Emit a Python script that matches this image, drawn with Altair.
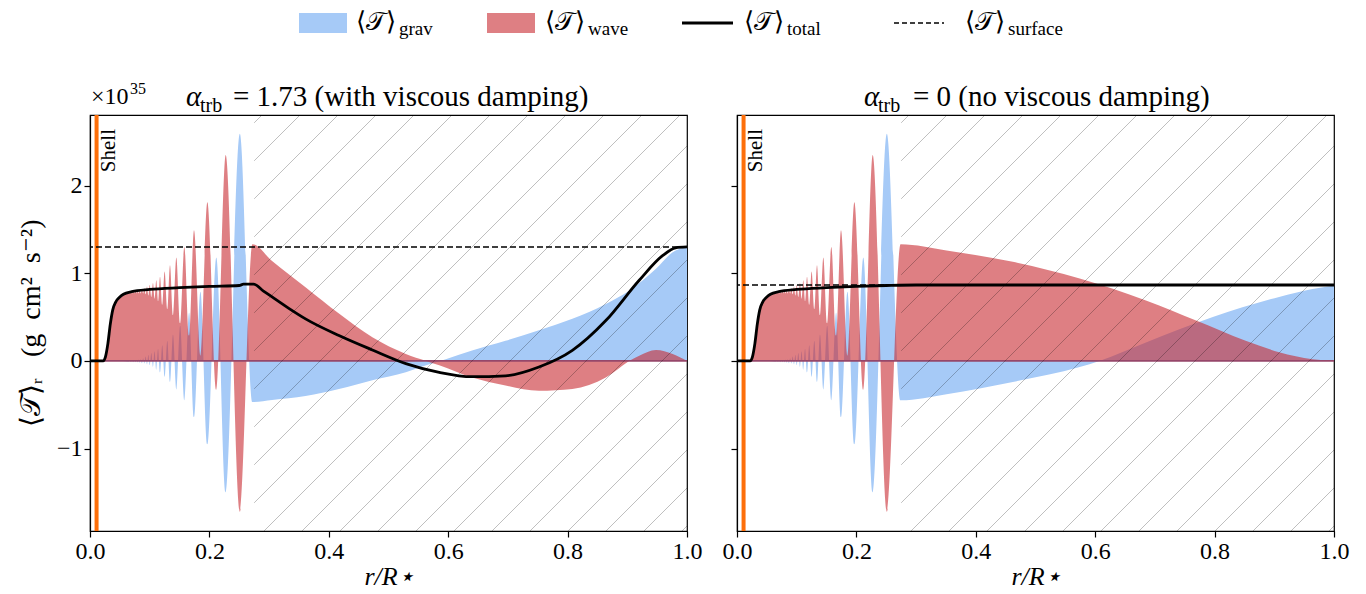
import altair as alt
import pandas as pd

SERIF = "Liberation Serif"
Y_MIN, Y_MAX = -1.94, 2.805
PW, PH = 597, 416

x_ticks = [0.0, 0.2, 0.4, 0.6, 0.8, 1.0]
y_ticks = [-1, 0, 1, 2]

shell_r = 0.011
hatch_start = 0.275

# ---- rise of the flux just outside the shell (shared by both panels)
rise_x = [0.0, 0.022, 0.026, 0.030, 0.034, 0.038, 0.043, 0.050, 0.056, 0.060]
rise_wave = [0.0, 0.0, 0.05, 0.20, 0.42, 0.58, 0.67, 0.73, 0.76, 0.77]
grav_pre_x = [0.0, 0.050, 0.060]
grav_pre = [0.0, 0.0, -0.004]

# ---- oscillating region: extrema (shared by both panels)
osc_x = [0.0652, 0.0665, 0.0677, 0.0690, 0.0704, 0.0718, 0.0733, 0.0748, 0.0764, 0.0780,
         0.0797, 0.0814, 0.0832, 0.0850, 0.0870, 0.0890, 0.0910, 0.0932, 0.0955, 0.0978,
         0.1000, 0.1027, 0.1055, 0.1082, 0.1110, 0.1140, 0.1173, 0.1210, 0.1250, 0.1295,
         0.1340, 0.1390, 0.1446, 0.1510, 0.1580, 0.1660, 0.1742, 0.1850, 0.1966, 0.2116,
         0.2273, 0.2510]
osc_grav = [-0.008, 0.005, -0.010, 0.006, -0.012, 0.008, -0.014, 0.010, -0.016, 0.012,
            -0.019, 0.015, -0.022, 0.020, -0.026, 0.030, -0.030, 0.050, -0.040, 0.070,
            -0.050, 0.090, -0.070, 0.110, -0.100, 0.140, -0.130, 0.180, -0.180, 0.230,
            -0.240, 0.300, -0.330, 0.400, -0.450, 0.550, -0.640, 0.790, -0.950, 1.180,
            -1.500, 2.590]
osc_wave = [0.785, 0.770, 0.790, 0.770, 0.795, 0.770, 0.800, 0.770, 0.805, 0.770,
            0.810, 0.770, 0.815, 0.770, 0.820, 0.770, 0.830, 0.760, 0.850, 0.745,
            0.870, 0.730, 0.890, 0.710, 0.920, 0.680, 0.960, 0.640, 1.020, 0.590,
            1.090, 0.520, 1.180, 0.430, 1.300, 0.290, 1.490, 0.060, 1.810, -0.330,
            2.350, -1.720]

# ---- left panel (with viscous damping), outer region
visc_wave_x = [0.272, 0.305, 0.361, 0.417, 0.473, 0.529, 0.563, 0.585, 0.640, 0.696,
               0.752, 0.808, 0.864, 0.903, 0.920, 0.948, 0.976, 1.0]
visc_wave = [1.33, 1.14, 0.84, 0.54, 0.27, 0.08, 0.0, -0.05, -0.19, -0.28,
             -0.34, -0.32, -0.19, 0.0, 0.06, 0.125, 0.08, 0.0]
visc_grav_x = [0.272, 0.305, 0.361, 0.417, 0.473, 0.529, 0.563, 0.596, 0.640, 0.696,
               0.752, 0.808, 0.864, 0.903, 0.948, 0.976, 1.0]
visc_grav = [-0.47, -0.445, -0.40, -0.32, -0.22, -0.13, -0.05, 0.02, 0.12, 0.23,
             0.35, 0.48, 0.65, 0.80, 1.05, 1.24, 1.30]
visc_total_x = [0.0, 0.022, 0.026, 0.030, 0.034, 0.038, 0.043, 0.050, 0.056, 0.070,
                0.100, 0.150, 0.200, 0.250, 0.257, 0.274, 0.290, 0.305, 0.333, 0.361,
                0.417, 0.473, 0.529, 0.585, 0.640, 0.696, 0.752, 0.808, 0.864, 0.920,
                0.959, 0.981, 1.0]
visc_total = [0.0, 0.0, 0.05, 0.20, 0.42, 0.58, 0.67, 0.73, 0.76, 0.79,
              0.815, 0.835, 0.85, 0.86, 0.875, 0.877, 0.80, 0.73, 0.60, 0.48,
              0.29, 0.125, -0.03, -0.13, -0.18, -0.17, -0.07, 0.12, 0.46, 0.92,
              1.20, 1.29, 1.30]
visc_surface = 1.30

# ---- right panel (no viscous damping), outer region
free_wave_x = [0.274, 0.351, 0.462, 0.574, 0.685, 0.769, 0.852, 0.908, 0.964, 1.0]
free_wave = [1.33, 1.26, 1.13, 0.94, 0.69, 0.46, 0.23, 0.10, 0.02, 0.0]
free_grav_x = [0.274, 0.351, 0.462, 0.574, 0.607, 0.685, 0.797, 0.908, 0.964, 1.0]
free_grav = [-0.45, -0.38, -0.24, -0.07, 0.0, 0.21, 0.50, 0.73, 0.82, 0.86]
free_total_x = [0.0, 0.022, 0.026, 0.030, 0.034, 0.038, 0.043, 0.050, 0.056, 0.070,
                0.100, 0.150, 0.200, 0.250, 0.300, 1.0]
free_total = [0.0, 0.0, 0.05, 0.20, 0.42, 0.58, 0.67, 0.73, 0.76, 0.79,
              0.815, 0.835, 0.85, 0.86, 0.866, 0.866]
free_surface = 0.866

BLUE = "#a6caf7"
RED = "#c82a30"
RED_OP = 0.6
ORANGE = "#fd6f0a"
ZERO = "#96476a"
NB = "\u00a0"

one = pd.DataFrame({"k": [0]})


def df(x, y):
    return pd.DataFrame({"r": x, "v": y})


def hatch_df():
    rows = []
    u0 = hatch_start * PW
    for k in range(-15, 20):
        c = 22 + 38 * k
        vs = max(0.0, u0 - c)
        ve = min(float(PH), PW - c)
        if ve - vs < 1:
            continue
        rows.append({"r": (c + vs) / PW, "v": Y_MIN + vs / PH * (Y_MAX - Y_MIN),
                     "r2": (c + ve) / PW, "v2": Y_MIN + ve / PH * (Y_MAX - Y_MIN)})
    return pd.DataFrame(rows)


def vtext(s, px, py, size, italic=False, align="left", baseline="alphabetic", angle=None):
    kw = dict(font=SERIF, fontSize=size, align=align, baseline=baseline, color="black")
    if italic:
        kw["fontStyle"] = "italic"
    if angle is not None:
        kw["angle"] = angle
    return alt.Chart(one).mark_text(**kw).encode(
        x=alt.value(px), y=alt.value(py), text=alt.value(s))


def panel(gx, gy, wx, wy, tx, ty, surface, title_parts, first):
    xs = alt.Scale(domain=[0, 1], nice=False, zero=False)
    ys = alt.Scale(domain=[Y_MIN, Y_MAX], nice=False, zero=False)
    X = alt.X("r:Q", scale=xs,
              axis=alt.Axis(values=x_ticks, format=".1f", title="r/R⋆",
                            titleFontStyle="italic", labelFlush=False,
                            labelOverlap=False, titlePadding=0))
    if first:
        ytitle = "⟨𝒯⟩ᵣ" + NB * 3 + "(g" + NB * 2 + "cm²" + NB * 2 + "s⁻²)"
        yax = alt.Axis(values=y_ticks, format="d", title=ytitle,
                       titlePadding=11, titleFontSize=28, labelOverlap=False)
    else:
        yax = alt.Axis(values=y_ticks, labels=False, title=None)
    Y = alt.Y("v:Q", scale=ys, axis=yax)

    grav = alt.Chart(df(gx, gy)).mark_area(interpolate="monotone", color=BLUE).encode(
        x=X, y=Y, y2=alt.datum(0))
    wave = alt.Chart(df(wx, wy)).mark_area(interpolate="monotone", color=RED,
                                           opacity=RED_OP).encode(
        x=X, y=Y, y2=alt.datum(0))
    zero = alt.Chart(pd.DataFrame({"v": [0.0]})).mark_rule(
        color=ZERO, strokeWidth=1.6).encode(y=Y)
    hatch = alt.Chart(hatch_df()).mark_rule(color="black", opacity=0.25,
                                            strokeWidth=1).encode(
        x=X, y=Y, x2="r2:Q", y2="v2:Q")
    shell = alt.Chart(pd.DataFrame({"r": [shell_r]})).mark_rule(
        color=ORANGE, strokeWidth=4).encode(x=X)
    surf = alt.Chart(pd.DataFrame({"v": [surface]})).mark_rule(
        color="black", strokeDash=[6, 3], strokeWidth=1.4).encode(y=Y)
    total = alt.Chart(df(tx, ty)).mark_line(interpolate="monotone", color="black",
                                            strokeWidth=2.8).encode(x=X, y=Y)
    shell_txt = vtext("Shell", 19, 14, 21, align="right", baseline="middle", angle=270)

    layers = [grav, wave, zero, hatch, shell, surf, total, shell_txt]
    for (s, px, py, size, it) in title_parts:
        layers.append(vtext(s, px, py, size, italic=it))
    if first:
        layers.append(vtext("×10", 1, -11, 24))
        layers.append(vtext("35", 40, -21, 16))
    return alt.layer(*layers).properties(
        width=PW, height=PH, view=alt.ViewBackground(stroke="black", strokeWidth=1.2))


left = panel(grav_pre_x + osc_x + visc_grav_x, grav_pre + osc_grav + visc_grav,
             rise_x + osc_x + visc_wave_x, rise_wave + osc_wave + visc_wave,
             visc_total_x, visc_total, visc_surface,
             [("α", 96, -9, 29, True), ("trb", 110, -3, 20, False),
              ("= 1.73 (with viscous damping)", 143, -9, 29, False)], True)
right = panel(grav_pre_x + osc_x + free_grav_x, grav_pre + osc_grav + free_grav,
              rise_x + osc_x + free_wave_x, rise_wave + osc_wave + free_wave,
              free_total_x, free_total, free_surface,
              [("α", 127, -9, 29, True), ("trb", 141, -3, 20, False),
               ("= 0 (no viscous damping)", 176, -9, 29, False)], False)

# ---- legend row
leg_names = ["grav", "wave", "total", "surface"]
leg_sym = [(209, 257), (397, 445), (592, 643), (804, 854)]
leg_lab = [266, 455, 654, 875]

leg_layers = [
    alt.Chart(one).mark_rect(color=BLUE).encode(
        x=alt.value(leg_sym[0][0]), x2=alt.value(leg_sym[0][1]),
        y=alt.value(1), y2=alt.value(21)),
    alt.Chart(one).mark_rect(color=RED, opacity=RED_OP).encode(
        x=alt.value(leg_sym[1][0]), x2=alt.value(leg_sym[1][1]),
        y=alt.value(1), y2=alt.value(21)),
    alt.Chart(one).mark_rule(color="black", strokeWidth=2.8).encode(
        x=alt.value(leg_sym[2][0]), x2=alt.value(leg_sym[2][1]), y=alt.value(11)),
    alt.Chart(one).mark_rule(color="black", strokeWidth=1.4, strokeDash=[5, 3]).encode(
        x=alt.value(leg_sym[3][0]), x2=alt.value(leg_sym[3][1]), y=alt.value(11)),
]
for name, lx in zip(leg_names, leg_lab):
    leg_layers.append(vtext("⟨𝒯⟩", lx, 18, 26))
    leg_layers.append(vtext(name, lx + 43, 23, 19))
legend = alt.layer(*leg_layers).properties(width=1244, height=24)

chart = alt.vconcat(
    legend,
    alt.hconcat(left, right, spacing=50, bounds="flush"),
    spacing=79, bounds="flush",
).properties(
    padding={"left": 8, "top": 0, "right": 0, "bottom": 0}
).configure_axis(
    labelFont=SERIF, labelFontSize=24, labelColor="black",
    titleFont=SERIF, titleFontSize=26, titleFontWeight="normal", titleColor="black",
    tickColor="black", tickSize=6, tickWidth=1.2, domainColor="black", domainWidth=1.2,
    grid=False, labelPadding=2,
).configure_view(stroke="transparent")

chart.save("out.html", embed_options={"renderer": "svg", "actions": False})
